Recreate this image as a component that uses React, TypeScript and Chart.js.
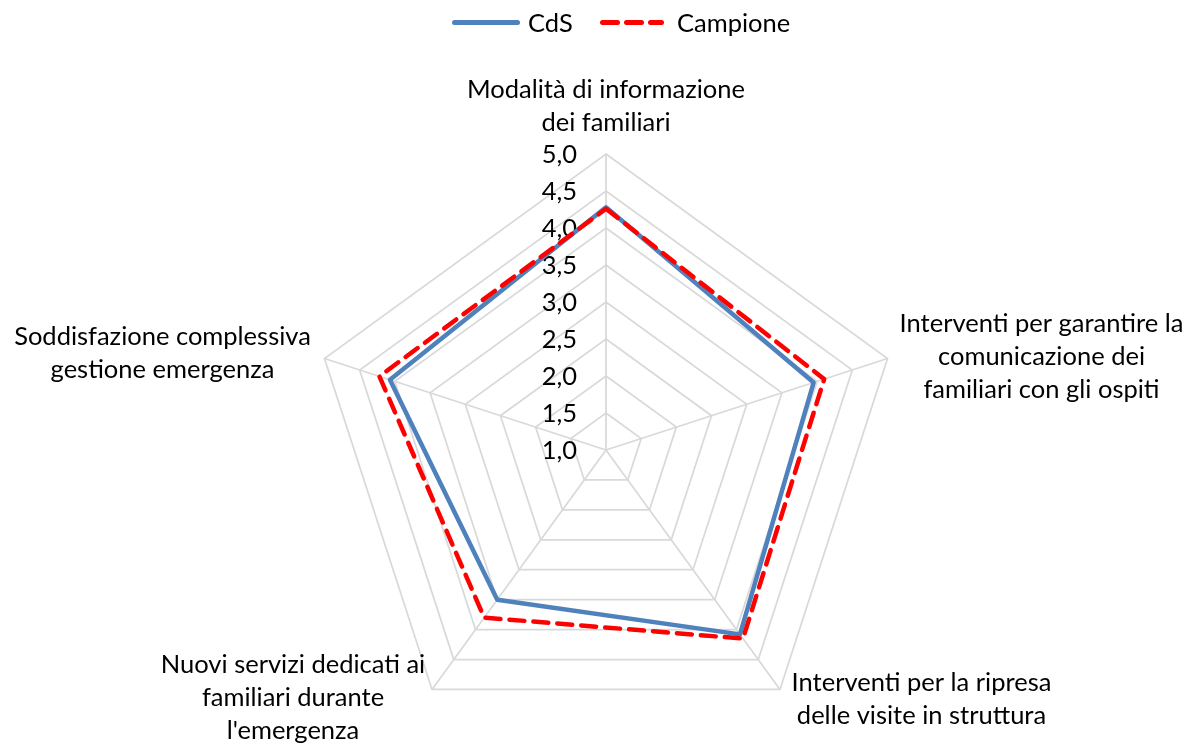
import React, { useEffect, useRef } from 'react';
import { Chart, registerables } from 'chart.js';

Chart.register(...registerables);

// ---- Data ----
const categories: string[][] = [
  ['Modalità di informazione', 'dei familiari'],
  ['Interventi per garantire la', 'comunicazione dei', 'familiari con gli ospiti'],
  ['Interventi per la ripresa', 'delle visite in struttura'],
  ['Nuovi servizi dedicati ai', 'familiari durante', "l'emergenza"],
  ['Soddisfazione complessiva', 'gestione emergenza'],
];
const seriesNames = ['CdS', 'Campione'];
const cdsValues = [4.28, 3.95, 4.08, 3.5, 4.07];
const campioneValues = [4.26, 4.1, 4.15, 3.8, 4.22];
const tickValues = [1.0, 1.5, 2.0, 2.5, 3.0, 3.5, 4.0, 4.5, 5.0];

// ---- Styles ----
const BLUE = '#4F81BD';
const RED = '#FF0000';
const GRID = '#D9D9D9';
const FONT_FAMILY = 'Lato, "Noto Sans", sans-serif';
const FONT_SIZE = 25.5;
const LINE_H = 33;
const DASH = [15, 9];

const labelOffsets = [
  { dx: 0, dy: -56 },
  { dx: 154, dy: -27 },
  { dx: 141.5, dy: 2 },
  { dx: -139, dy: -16.5 },
  { dx: -162, dy: -14 },
];

const fmt = (v: number) => v.toFixed(1).replace('.', ',');

const textPlugin = {
  id: 'customText',
  beforeDatasetsDraw(chart: any) {
    const scale = chart.scales.r;
    const ctx = chart.ctx;
    ctx.save();
    ctx.font = `${FONT_SIZE}px ${FONT_FAMILY}`;
    ctx.fillStyle = '#000';
    ctx.textAlign = 'right';
    ctx.textBaseline = 'alphabetic';
    tickValues.forEach((v) => {
      const d = scale.getDistanceFromCenterForValue(v);
      ctx.fillText(fmt(v), scale.xCenter - 29, scale.yCenter - d + 9);
    });
    ctx.restore();
  },
  afterDatasetsDraw(chart: any) {
    const scale = chart.scales.r;
    const ctx = chart.ctx;
    ctx.save();
    ctx.font = `${FONT_SIZE}px ${FONT_FAMILY}`;
    ctx.fillStyle = '#000';
    ctx.textAlign = 'center';
    ctx.textBaseline = 'alphabetic';
    categories.forEach((lines, i) => {
      const p = scale.getPointPosition(i, scale.drawingArea);
      const off = labelOffsets[i];
      lines.forEach((ln, j) => {
        ctx.fillText(ln, p.x + off.dx, p.y + off.dy + j * LINE_H);
      });
    });

    // legend
    const ly = 22.5;
    const ds = chart.data.datasets;
    ctx.lineCap = 'round';
    ctx.lineWidth = 5;
    ctx.strokeStyle = ds[0].borderColor;
    ctx.setLineDash([]);
    ctx.beginPath();
    ctx.moveTo(454.5, ly);
    ctx.lineTo(517.5, ly);
    ctx.stroke();
    ctx.strokeStyle = ds[1].borderColor;
    ctx.setLineDash(DASH);
    ctx.beginPath();
    ctx.moveTo(602.5, ly);
    ctx.lineTo(661.5, ly);
    ctx.stroke();
    ctx.setLineDash([]);
    ctx.textAlign = 'left';
    ctx.fillText(ds[0].label, 528, 31.5);
    ctx.fillText(ds[1].label, 677, 31.5);
    ctx.restore();
  },
};

export default function App() {
  const canvasRef = useRef<HTMLCanvasElement | null>(null);

  useEffect(() => {
    if (!canvasRef.current) return;
    const chart = new Chart(canvasRef.current, {
      type: 'radar',
      data: {
        labels: categories,
        datasets: [
          {
            label: seriesNames[0],
            data: cdsValues,
            borderColor: BLUE,
            backgroundColor: 'transparent',
            borderWidth: 4.5,
            borderJoinStyle: 'round',
            borderCapStyle: 'round',
            fill: false,
            order: 2,
          },
          {
            label: seriesNames[1],
            data: campioneValues,
            borderColor: RED,
            backgroundColor: 'transparent',
            borderWidth: 4.5,
            borderDash: DASH,
            borderJoinStyle: 'round',
            borderCapStyle: 'round',
            fill: false,
            order: 1,
          },
        ],
      },
      options: {
        responsive: false,
        animation: false,
        layout: { padding: { left: 310, right: 298, top: 154, bottom: 0 } },
        plugins: {
          legend: { display: false },
          tooltip: { enabled: false },
        },
        elements: {
          point: { radius: 0, hoverRadius: 0 },
          line: { tension: 0 },
        },
        scales: {
          r: {
            min: 1,
            max: 5,
            ticks: { display: false, stepSize: 0.5 },
            pointLabels: { display: false },
            grid: { color: GRID, lineWidth: 1.75 },
            angleLines: { color: GRID, lineWidth: 1.75 },
          },
        },
      },
      plugins: [textPlugin],
    } as any);
    return () => chart.destroy();
  }, []);

  return (
    <div style={{ position: 'fixed', left: 0, top: 0, width: 1200, height: 746, background: '#fff' }}>
      <canvas ref={canvasRef} width={1200} height={746} style={{ display: 'block' }} />
    </div>
  );
}
